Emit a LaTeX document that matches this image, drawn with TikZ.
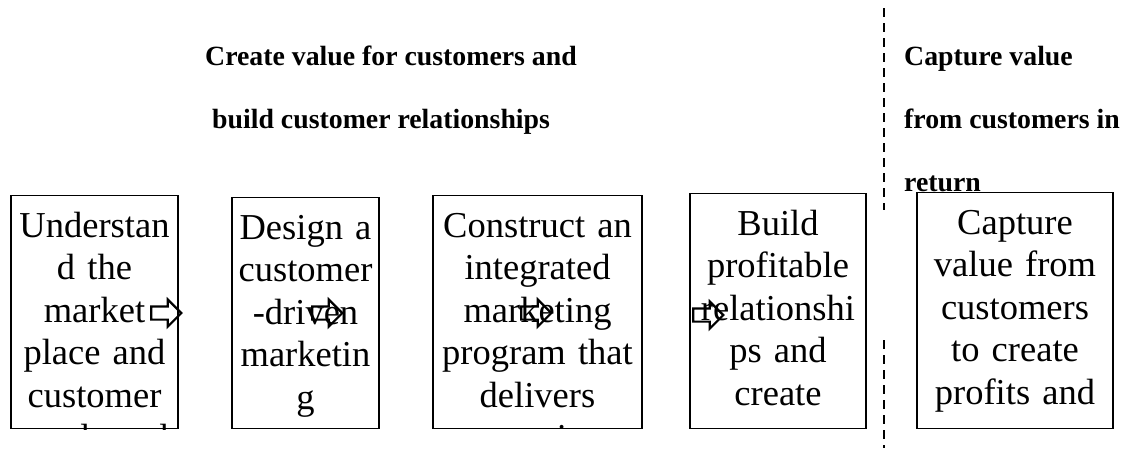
\documentclass[tikz,border=0pt]{standalone}
\usepackage{fontspec}
\setmainfont{Liberation Serif}
\usetikzlibrary{shapes.arrows}

\begin{document}
\begin{tikzpicture}[x=1pt,y=-1pt,
    box/.style={draw,line width=1.2pt,inner sep=0pt,anchor=north},
    boxtext/.style={anchor=base,inner sep=0pt,align=center,
        font=\fontsize{36.5}{42.5}\selectfont},
    hdr/.style={anchor=base west,inner sep=0pt,font=\bfseries\fontsize{27.8}{30}\selectfont},
    blockarrow/.style={single arrow,draw,line width=2.2pt,inner xsep=0pt,inner ysep=5.5pt,
        minimum height=30pt,single arrow head extend=7pt}]
    \useasboundingbox (0,0) rectangle (1133,448);

    \node[hdr] (create1) at (205,65) {Create value for customers and};
    \node[hdr] (create2) at (212,128) {build customer relationships};
    \node[hdr] (capture1) at (904,65) {Capture value};
    \node[hdr] (capture2) at (904,128) {from customers in};
    \node[hdr] (capture3) at (904,191) {return};

    \draw[line width=1.8pt,dash pattern=on 9pt off 6pt] (884,8) -- (884,210) (884,340) -- (884,448);

    \foreach \name/\cx/\boxw/\ytop/\txt in {
        understand/94.5/167/195/{Understan\\d the\\market\\place and\\customer\\needs and},
        design/305.5/147/197/{Design a\\customer\\-driven\\marketin\\g},
        construct/537.5/209/195/{Construct an\\integrated\\marketing\\program that\\delivers\\superior},
        build/778/176/193/{Build\\profitable\\relationshi\\ps and\\create},
        capture/1015/196/192/{Capture\\value from\\customers\\to create\\profits and}} {
        \node[box,minimum width=\boxw pt,minimum height={(428-\ytop)*1pt}] (\name) at (\cx,\ytop) {};
        \begin{scope}
            \clip (\name.north west) rectangle (\name.south east);
            \node[boxtext,text width=\boxw pt,yshift=-42pt] (\name-text) at (\name.north) {\txt};
        \end{scope}
    }

    \foreach \i/\x/\y in {1/163/313, 2/324/313, 3/533/313, 4/705/315} {
        \node[blockarrow] (arrow\i) at (\x,\y) {};
    }
\end{tikzpicture}
\end{document}
